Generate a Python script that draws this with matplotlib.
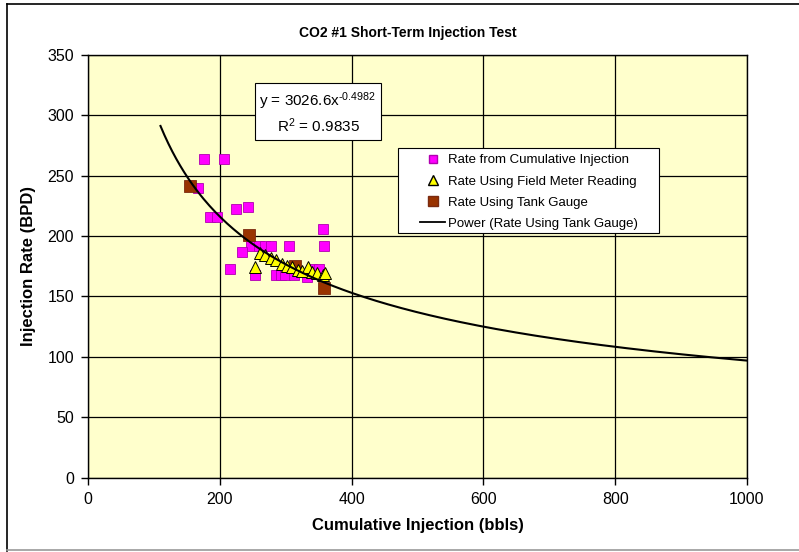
import numpy as np
import matplotlib
matplotlib.use('Agg')
import matplotlib.pyplot as plt
from matplotlib.lines import Line2D
from matplotlib.patches import Rectangle

plt.rcParams['font.family'] = ['Liberation Sans', 'DejaVu Sans']
plt.rcParams['mathtext.fontset'] = 'custom'
plt.rcParams['mathtext.rm'] = 'Liberation Sans'
plt.rcParams['mathtext.default'] = 'regular'

# Rate from cumulative injection (pink squares)
cum_x = [176, 207, 167, 185, 196, 225, 243, 248, 260, 269, 278, 305, 357, 358,
         234, 216, 254, 286, 293, 299, 313, 333, 340, 351]
cum_y = [264, 264, 240, 216, 216, 222, 224, 192, 192, 192, 192, 192, 206, 192,
         187, 173, 168, 168, 168, 168, 168, 166, 173, 173]

# Rate using field meter reading (yellow triangles)
meter_x = [254, 261, 269, 278, 286, 295, 302, 310, 318, 325, 334, 340, 348, 356, 360]
meter_y = [174, 186, 184, 182, 180, 177, 175, 174, 172, 171, 174, 170, 169, 168, 169]

# Rate using tank gauge (brown squares)
tank_x = [155, 244, 314, 358]
tank_y = [241, 201, 175, 157]

# power trendline y = 3026.6 x^-0.4982
coef_a = 3026.6
coef_b = -0.4982
trend_x = np.linspace(110, 1000, 300)
trend_y = coef_a * trend_x ** coef_b

fig = plt.figure(figsize=(7.99, 5.52), dpi=100)
ax = fig.add_axes([88 / 799, 1 - 477.7 / 552, 659 / 799, 423 / 552])
ax.set_facecolor('#FFFFCC')

ax.plot(cum_x, cum_y, 's', color='#FF00FF', markeredgecolor='#B000B0',
        markeredgewidth=0.6, markersize=6.5, linestyle='none', zorder=3)
ax.plot(tank_x, tank_y, 's', color='#993300', markeredgecolor='#7A2A10',
        markeredgewidth=0.6, markersize=9, linestyle='none', zorder=4)
ax.plot(meter_x, meter_y, '^', color='#FFFF00', markeredgecolor='black',
        markeredgewidth=0.7, markersize=9, linestyle='none', zorder=5)
ax.plot(trend_x, trend_y, color='black', lw=1.5, zorder=6)

ax.set_xlim(0, 1000)
ax.set_ylim(0, 350)
ax.set_xticks(range(0, 1001, 200))
ax.set_yticks(range(0, 351, 50))
ax.grid(True, color='black', lw=0.9)
ax.set_axisbelow(True)
ax.tick_params(direction='out', length=5, width=1, labelsize=11.5, pad=5)
for s in ax.spines.values():
    s.set_linewidth(1.0)

ax.set_xlabel('Cumulative Injection (bbls)', fontsize=12, fontweight='bold', labelpad=8)
ax.set_ylabel('Injection Rate (BPD)', fontsize=12, fontweight='bold', labelpad=8)

fig.text(408 / 799, 1 - 32.7 / 552, 'CO2 #1 Short-Term Injection Test',
         ha='center', va='center', fontsize=10, fontweight='bold')

ax.text(349, 302, 'y = 3026.6x$^{\u2010' + '0.4982}$\nR$^{2}$ = 0.9835', ha='center', va='center',
        fontsize=11, linespacing=1.3, zorder=7,
        bbox=dict(facecolor='white', edgecolor='black', lw=0.8, boxstyle='square,pad=0.3'))

# legend box (Excel style, wide padding)
ax.add_patch(Rectangle((0.4704, 0.5785), 0.396, 0.201, transform=ax.transAxes,
                       facecolor='white', edgecolor='black', lw=0.8, zorder=8))

handles = [
    Line2D([], [], marker='s', color='#FF00FF', markeredgecolor='#B000B0', markersize=5.5, linestyle='none'),
    Line2D([], [], marker='^', color='#FFFF00', markeredgecolor='black', markersize=6.5, linestyle='none'),
    Line2D([], [], marker='s', color='#993300', markeredgecolor='#7A2A10', markersize=6.5, linestyle='none'),
    Line2D([], [], color='black', lw=1.3),
]
labels = ['Rate from Cumulative Injection', 'Rate Using Field Meter Reading',
          'Rate Using Tank Gauge', 'Power (Rate Using Tank Gauge)']
leg = ax.legend(handles, labels, loc='upper left', bbox_to_anchor=(0.5038, 0.765),
                fontsize=9.5, frameon=False, labelspacing=0.68, handlelength=1.9,
                handletextpad=0.2, borderpad=0, borderaxespad=0)
leg.set_zorder(9)

# outer chart border
fig.add_artist(Line2D([7 / 799, 7 / 799], [1 - 551 / 552, 1 - 4 / 552], color='black', lw=1.2))
fig.add_artist(Line2D([7 / 799, 1], [1 - 4 / 552, 1 - 4 / 552], color='black', lw=1.2))
fig.add_artist(Line2D([7 / 799, 1], [1 - 550 / 552, 1 - 550 / 552], color='#999999', lw=1.2))

plt.savefig('out.png', dpi=100)
